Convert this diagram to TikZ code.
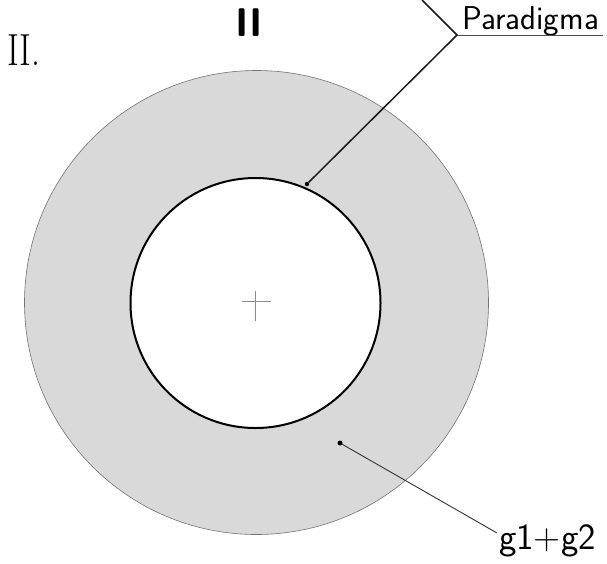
\documentclass[tikz,border=0pt]{standalone}
\usepackage{fontspec}
\begin{document}
\begin{tikzpicture}[x=1pt,y=-1pt,
  ring/.style={circle,draw=black!55,line width=0.6pt,fill=black!15,minimum size=464pt,inner sep=0pt},
  hole/.style={circle,draw=black,line width=2pt,fill=white,minimum size=250pt,inner sep=0pt},
  hand/.style={font=\sffamily\fontsize{33}{33}\selectfont,inner sep=0pt},
  leader/.style={draw=black!90,line width=1.5pt},
  thinleader/.style={draw=black!80,line width=0.9pt},
  dotmark/.style={circle,fill=black,minimum size=4.5pt,inner sep=0pt}]
\useasboundingbox (0,0) rectangle (607,563);
\node[ring] (outer) at (256.5,302.5) {};
\node[hole] (inner) at (255.5,303) {};
% centre cross
\coordinate (cl) at (241.5,301);
\coordinate (cr) at (270.5,301);
\coordinate (ct) at (255.5,290.5);
\coordinate (cb) at (255.5,320.5);
\draw[black!45,line width=0.6pt] (cl) -- (cr) (ct) -- (cb);
% headings
\node[font=\fontsize{45}{45}\selectfont,inner sep=0pt,anchor=base west,xscale=0.8] (roman) at (7,65) {II.};
\node[font=\sffamily\bfseries\fontsize{40}{40}\selectfont,inner sep=0pt,anchor=base] (top) at (249,36) {II};
% Paradigma label
\node[hand,anchor=base west] (par) at (462,29) {Paradigma};
\coordinate (ptop) at (422,0);
\coordinate (pcorner) at (457,35);
\coordinate (pend) at (603,35);
\node[dotmark] (pdot) at (307,184) {};
\draw[leader] (ptop) -- (pcorner) -- (pdot);
\draw[black!70,line width=0.8pt] (pcorner) -- (pend);
% g1+g2 label
\node[font=\sffamily\fontsize{37}{37}\selectfont,inner sep=0pt,anchor=base west] (gl) at (499,549) {g1+g2};
\node[dotmark,minimum size=5pt] (gdot) at (340,443) {};
\coordinate (gend) at (497,533);
\draw[thinleader] (gdot) -- (gend);
\end{tikzpicture}
\end{document}
